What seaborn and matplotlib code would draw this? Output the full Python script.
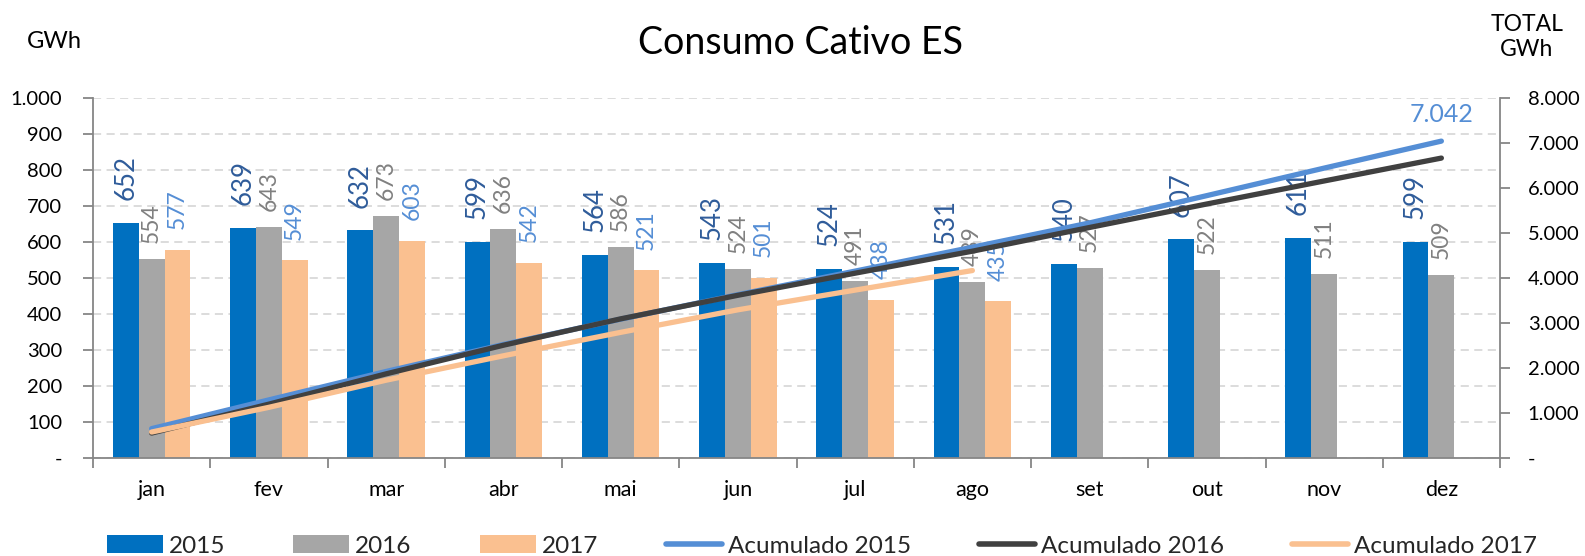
import numpy as np
import pandas as pd
import matplotlib
matplotlib.use("Agg")
import matplotlib.pyplot as plt
import seaborn as sns
from matplotlib.lines import Line2D
from matplotlib.patches import Patch
from matplotlib.ticker import FuncFormatter, MultipleLocator, FixedLocator

# ---- data -------------------------------------------------------------
meses = ["jan", "fev", "mar", "abr", "mai", "jun", "jul", "ago", "set", "out", "nov", "dez"]
anos = ["2015", "2016", "2017"]
consumo_2015 = [652, 639, 632, 599, 564, 543, 524, 531, 540, 607, 611, 599]
consumo_2016 = [554, 643, 673, 636, 586, 524, 491, 489, 527, 522, 511, 509]
consumo_2017 = [577, 549, 603, 542, 521, 501, 438, 435]
acumulado_2015 = [652, 1291, 1923, 2522, 3086, 3629, 4153, 4684, 5224, 5831, 6442, 7042]
acumulado_2016 = [554, 1197, 1870, 2506, 3092, 3616, 4107, 4596, 5123, 5645, 6156, 6665]
acumulado_2017 = [577, 1126, 1729, 2271, 2792, 3293, 3731, 4166]

# ---- style ------------------------------------------------------------
cores_barras = {"2015": "#0070C0", "2016": "#A6A6A6", "2017": "#FAC090"}
cores_linhas = {"Acumulado 2015": "#558ED5", "Acumulado 2016": "#404040",
                "Acumulado 2017": "#FAC090"}
cores_rotulos = {"2015": "#2F5C9A", "2016": "#808080", "2017": "#558ED5"}
tam_rotulos = {"2015": 18.5, "2016": 16.5, "2017": 16.5}
desloc_rotulos = {"2015": 16.5, "2016": 11.5, "2017": 15}
cinza_eixo = "#868686"

sns.set_style("white")
plt.rcParams["font.family"] = ["Lato", "DejaVu Sans"]


def milhar(v, pos=None):
    if abs(v) < 1e-9:
        return "-"
    return f"{int(round(v)):,}".replace(",", ".")


# ---- tables -----------------------------------------------------------
n = len(meses)
pad = lambda vals: list(vals) + [np.nan] * (n - len(vals))
df_barras = pd.DataFrame({
    "mes": meses * 3,
    "ano": [a for a in anos for _ in meses],
    "consumo": pad(consumo_2015) + pad(consumo_2016) + pad(consumo_2017),
})

series_acum = {"Acumulado 2015": acumulado_2015,
               "Acumulado 2016": acumulado_2016,
               "Acumulado 2017": acumulado_2017}
df_acum = pd.concat([
    pd.DataFrame({"pos": np.arange(len(v)), "acumulado": v, "serie": nome})
    for nome, v in series_acum.items()
], ignore_index=True)

# ---- figure -----------------------------------------------------------
fig = plt.figure(figsize=(15.85, 5.56), dpi=100)
ax = fig.add_axes([93 / 1585, 1 - 458 / 556, (1500 - 93) / 1585, (458 - 98) / 556])

sns.barplot(data=df_barras, x="mes", y="consumo", hue="ano", order=meses,
            hue_order=anos, palette=cores_barras, saturation=1, width=0.66, gap=0,
            errorbar=None, linewidth=0, legend=False, ax=ax, zorder=2)

# value labels above each bar
for ano, cont in zip(anos, ax.containers):
    for barra in cont:
        h = barra.get_height()
        if not np.isfinite(h):
            continue
        ax.annotate(f"{h:.0f}", (barra.get_x() + barra.get_width() / 2, h),
                    xytext=(0, desloc_rotulos[ano]), textcoords="offset points",
                    rotation=90, ha="center", va="bottom",
                    fontsize=tam_rotulos[ano], color=cores_rotulos[ano], zorder=3)

ax.set_ylim(0, 1000)
ax.yaxis.set_major_locator(MultipleLocator(100))
ax.yaxis.set_major_formatter(FuncFormatter(milhar))
ax.yaxis.grid(True, linestyle=(0, (4.5, 3)), color="#D9D9D9", linewidth=1.3, zorder=0)
ax.set_axisbelow(True)
ax.set_xlabel("")
ax.set_ylabel("")

# cumulative lines on the secondary axis
ax2 = ax.twinx()
sns.lineplot(data=df_acum, x="pos", y="acumulado", hue="serie",
             hue_order=list(series_acum), palette=cores_linhas, linewidth=3.8,
             sort=False, legend=False, ax=ax2)
for linha in ax2.lines:
    linha.set_solid_capstyle("round")
ax2.set_ylim(0, 8000)
ax2.yaxis.set_major_locator(MultipleLocator(1000))
ax2.yaxis.set_major_formatter(FuncFormatter(milhar))
ax2.set_xlabel("")
ax2.set_ylabel("")

# total label at the end of the 2015 cumulative line
ult = len(acumulado_2015) - 1
ax2.annotate(milhar(acumulado_2015[ult]), (ult, acumulado_2015[ult]),
             xytext=(0, 11), textcoords="offset points", ha="center", va="bottom",
             fontsize=18, color=cores_linhas["Acumulado 2015"])

ax.set_xlim(-0.5, n - 0.5)

# axes, ticks and spines
for a in (ax, ax2):
    for s in a.spines.values():
        s.set_visible(False)
ax.spines["left"].set_visible(True)
ax.spines["bottom"].set_visible(True)
ax2.spines["right"].set_visible(True)
for s in (ax.spines["left"], ax.spines["bottom"], ax2.spines["right"]):
    s.set_color(cinza_eixo)
    s.set_linewidth(1.3)

ax.tick_params(axis="y", which="major", length=7, width=1.3, color=cinza_eixo,
               direction="out", pad=15, labelsize=14.5, labelcolor="black", left=True)
ax2.tick_params(axis="y", which="major", length=7, width=1.3, color=cinza_eixo,
                direction="out", pad=13, labelsize=14.5, labelcolor="black", right=True)
ax.xaxis.set_minor_locator(FixedLocator(np.arange(-0.5, n, 1.0)))
ax.tick_params(axis="x", which="major", length=0, pad=16, labelsize=15.5, labelcolor="black")
ax.tick_params(axis="x", which="minor", length=7, width=1.3, color=cinza_eixo,
               direction="out", bottom=True)

# titles and unit labels
fig.text(801 / 1585, 1 - 43 / 556, "Consumo Cativo ES", ha="center", va="center",
         fontsize=27, color="black")
fig.text(54 / 1585, 1 - 42 / 556, "GWh", ha="center", va="center", fontsize=17,
         color="black")
fig.text(1527 / 1585, 1 - 37 / 556, "TOTAL\nGWh", ha="center", va="center",
         fontsize=16.5, color="black", linespacing=1.2)

# legend
handles = [Patch(facecolor=cores_barras[a], edgecolor="none") for a in anos]
handles += [Line2D([], [], color=c, linewidth=4, solid_capstyle="round")
            for c in cores_linhas.values()]
rotulos = anos + list(cores_linhas)
fig.legend(handles, rotulos, loc="center", bbox_to_anchor=(822 / 1585, 1 - 546 / 556),
           ncol=6, frameon=False, fontsize=17.5, handlelength=2.3, handleheight=0.7,
           handletextpad=0.25, columnspacing=2.8, borderaxespad=0, borderpad=0)

fig.savefig("out.png", dpi=100)
